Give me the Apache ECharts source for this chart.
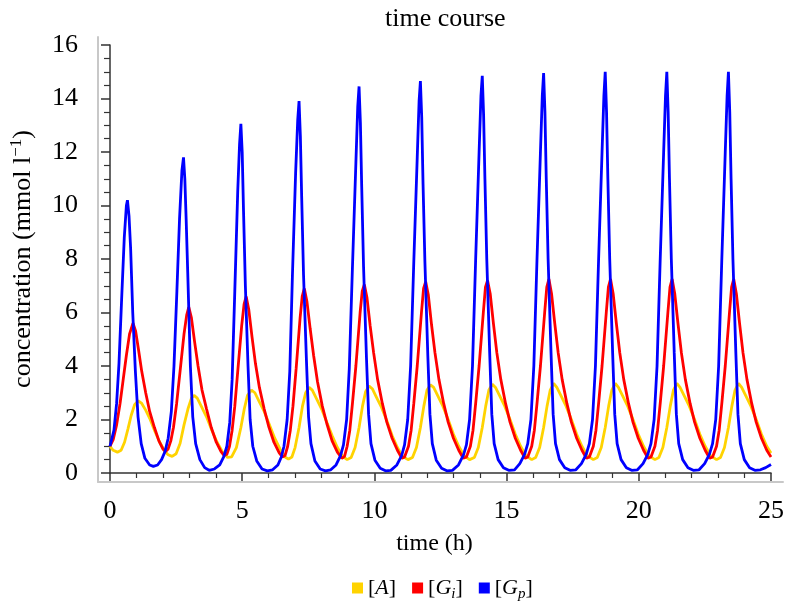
<!DOCTYPE html>
<html><head><meta charset="utf-8">
<script src="https://cdn.jsdelivr.net/npm/echarts@6/dist/echarts.min.js"></script>
<style>html,body{margin:0;padding:0;background:#fff}#c{width:787px;height:605px}</style>
</head><body><div id="c"></div>
<script>
const xTicks = [0, 5, 10, 15, 20, 25];
const yTicks = [0, 2, 4, 6, 8, 10, 12, 14, 16];
const seriesNames = ['[A]', '[Gi]', '[Gp]'];

const dataA = [
[0.0,1.0],[0.12,0.85],[0.28,0.78],[0.42,0.85],[0.55,1.15],[0.68,1.65],[0.8,2.15],[0.93,2.55],[1.07,2.7],[1.2,2.6],[1.35,2.35],[1.52,2.0],[1.7,1.55],[1.88,1.15],[2.05,0.85],[2.2,0.68],[2.35,0.62],
[2.5,0.72],[2.65,1.1],[2.8,1.8],[2.95,2.4],[3.08,2.8],[3.18,2.9],[3.3,2.8],[3.45,2.5],[3.65,2.1],[3.85,1.6],[4.05,1.15],[4.25,0.8],[4.45,0.58],
[4.6,0.6],[4.78,0.95],[4.95,1.7],[5.08,2.4],[5.2,2.9],[5.35,3.1],[5.48,3.0],[5.63,2.7],[5.83,2.3],[6.03,1.8],[6.23,1.3],[6.43,0.9],[6.62,0.6],[6.75,0.52],
[6.88,0.6],[7.0,0.95],[7.15,1.7],[7.28,2.5],[7.4,3.0],[7.53,3.2],[7.65,3.1],[7.8,2.8],[8.0,2.4],[8.2,1.9],[8.4,1.4],[8.6,0.95],[8.8,0.62],[8.97,0.5],
[9.12,0.58],[9.27,0.95],[9.42,1.7],[9.55,2.5],[9.67,3.05],[9.8,3.25],[9.92,3.15],[10.07,2.85],[10.27,2.45],[10.47,1.95],[10.67,1.4],[10.87,0.95],[11.07,0.62],[11.27,0.5],
[11.44,0.58],[11.59,0.95],[11.74,1.7],[11.87,2.5],[11.99,3.1],[12.12,3.3],[12.24,3.2],[12.39,2.9],[12.59,2.5],[12.79,2.0],[12.99,1.45],[13.19,1.0],[13.39,0.65],[13.6,0.5],
[13.78,0.58],[13.93,0.95],[14.08,1.7],[14.21,2.5],[14.33,3.1],[14.46,3.32],[14.58,3.2],[14.73,2.9],[14.93,2.5],[15.13,2.0],[15.33,1.45],[15.53,1.0],[15.73,0.65],[15.95,0.5],
[16.1,0.58],[16.25,0.95],[16.4,1.7],[16.53,2.5],[16.65,3.1],[16.78,3.35],[16.9,3.2],[17.05,2.9],[17.25,2.5],[17.45,2.0],[17.65,1.45],[17.85,1.0],[18.05,0.65],[18.28,0.5],
[18.43,0.58],[18.58,0.95],[18.73,1.7],[18.86,2.5],[18.98,3.1],[19.11,3.35],[19.23,3.2],[19.38,2.9],[19.58,2.5],[19.78,2.0],[19.98,1.45],[20.18,1.0],[20.38,0.65],[20.61,0.5],
[20.76,0.58],[20.91,0.95],[21.06,1.7],[21.19,2.5],[21.31,3.1],[21.44,3.35],[21.56,3.2],[21.71,2.9],[21.91,2.5],[22.11,2.0],[22.31,1.45],[22.51,1.0],[22.71,0.65],[22.94,0.5],
[23.09,0.58],[23.24,0.95],[23.39,1.7],[23.52,2.5],[23.64,3.1],[23.77,3.35],[23.89,3.2],[24.04,2.9],[24.24,2.5],[24.44,2.0],[24.64,1.45],[24.84,1.0],[25.0,0.75]
];

const dataGi = [
[0.0,1.0],[0.12,1.25],[0.25,1.8],[0.38,2.6],[0.5,3.5],[0.62,4.4],[0.74,5.2],[0.87,5.6],[0.97,5.3],[1.08,4.6],[1.2,3.8],[1.35,3.0],[1.5,2.3],[1.68,1.7],[1.85,1.2],[2.0,0.9],[2.1,0.8],
[2.2,0.9],[2.3,1.2],[2.4,1.7],[2.52,2.6],[2.65,3.8],[2.8,5.2],[2.9,5.9],[2.98,6.2],[3.08,5.8],[3.2,4.9],[3.33,4.0],[3.48,3.1],[3.65,2.4],[3.83,1.7],[4.02,1.15],[4.2,0.8],[4.32,0.65],
[4.42,0.7],[4.52,1.0],[4.62,1.6],[4.72,2.5],[4.84,3.9],[4.98,5.5],[5.07,6.3],[5.15,6.6],[5.25,6.1],[5.37,5.1],[5.5,4.1],[5.65,3.2],[5.83,2.4],[6.0,1.75],[6.2,1.15],[6.4,0.75],[6.52,0.6],
[6.62,0.65],[6.72,1.0],[6.82,1.6],[6.92,2.5],[7.04,3.9],[7.19,5.8],[7.27,6.6],[7.35,6.9],[7.45,6.4],[7.57,5.4],[7.7,4.4],[7.85,3.4],[8.03,2.5],[8.2,1.85],[8.4,1.2],[8.6,0.78],[8.77,0.55],
[8.87,0.62],[8.97,1.0],[9.07,1.6],[9.17,2.6],[9.3,4.0],[9.46,6.0],[9.54,6.8],[9.62,7.05],[9.72,6.55],[9.84,5.5],[9.97,4.5],[10.12,3.5],[10.3,2.6],[10.47,1.9],[10.67,1.3],[10.87,0.85],[11.04,0.55],
[11.14,0.6],[11.29,1.0],[11.39,1.6],[11.49,2.6],[11.62,4.0],[11.78,6.0],[11.86,6.9],[11.94,7.15],[12.04,6.65],[12.16,5.55],[12.29,4.5],[12.44,3.5],[12.62,2.6],[12.79,1.9],[12.99,1.3],[13.19,0.85],[13.36,0.55],
[13.48,0.6],[13.63,1.0],[13.73,1.6],[13.83,2.6],[13.96,4.0],[14.12,6.0],[14.2,6.95],[14.28,7.2],[14.38,6.7],[14.5,5.6],[14.63,4.5],[14.78,3.5],[14.96,2.6],[15.13,1.9],[15.33,1.3],[15.53,0.85],[15.7,0.55],
[15.8,0.6],[15.95,1.0],[16.05,1.6],[16.15,2.6],[16.28,4.0],[16.44,6.0],[16.52,6.95],[16.6,7.25],[16.7,6.7],[16.82,5.6],[16.95,4.5],[17.1,3.5],[17.28,2.6],[17.45,1.9],[17.65,1.3],[17.85,0.85],[18.02,0.55],
[18.13,0.6],[18.28,1.0],[18.38,1.6],[18.48,2.6],[18.61,4.0],[18.77,6.0],[18.85,6.95],[18.93,7.25],[19.03,6.7],[19.15,5.6],[19.28,4.5],[19.43,3.5],[19.61,2.6],[19.78,1.9],[19.98,1.3],[20.18,0.85],[20.35,0.55],
[20.46,0.6],[20.61,1.0],[20.71,1.6],[20.81,2.6],[20.94,4.0],[21.1,6.0],[21.18,6.95],[21.26,7.25],[21.36,6.7],[21.48,5.6],[21.61,4.5],[21.76,3.5],[21.94,2.6],[22.11,1.9],[22.31,1.3],[22.51,0.85],[22.68,0.55],
[22.79,0.6],[22.94,1.0],[23.04,1.6],[23.14,2.6],[23.27,4.0],[23.43,6.0],[23.51,6.95],[23.59,7.25],[23.69,6.7],[23.81,5.6],[23.94,4.5],[24.09,3.5],[24.27,2.6],[24.44,1.9],[24.64,1.3],[24.84,0.85],[25.0,0.6]
];

const dataGp = [
[0.0,1.0],[0.15,1.6],[0.25,2.6],[0.34,4.1],[0.44,6.5],[0.54,8.8],[0.62,10.0],[0.66,10.2],[0.72,9.6],[0.78,8.4],[0.86,6.0],[0.96,3.8],[1.06,2.1],[1.18,1.1],[1.32,0.55],[1.5,0.3],[1.64,0.25],[1.8,0.3],[1.95,0.5],[2.08,0.8],
[2.2,1.3],[2.32,2.3],[2.42,4.0],[2.53,6.8],[2.63,9.5],[2.72,11.3],[2.78,11.8],[2.83,11.0],[2.88,9.5],[2.94,7.5],[3.04,4.0],[3.13,2.1],[3.24,1.1],[3.4,0.5],[3.58,0.2],[3.75,0.1],[3.95,0.15],
[4.15,0.3],[4.3,0.6],[4.42,1.0],[4.53,1.9],[4.62,3.5],[4.72,6.8],[4.83,10.5],[4.9,12.3],[4.95,13.05],[5.0,12.0],[5.05,9.8],[5.12,7.0],[5.22,4.0],[5.3,2.0],[5.4,1.0],[5.55,0.45],[5.75,0.15],[5.95,0.08],[6.15,0.12],
[6.35,0.3],[6.48,0.6],[6.58,1.0],[6.7,2.0],[6.8,3.8],[6.9,7.4],[7.02,11.2],[7.1,13.2],[7.15,13.9],[7.2,12.6],[7.25,10.3],[7.32,7.4],[7.43,4.2],[7.51,2.1],[7.6,1.1],[7.75,0.45],[7.95,0.15],[8.15,0.08],[8.35,0.12],
[8.55,0.3],[8.72,0.65],[8.83,1.05],[8.95,2.0],[9.05,3.9],[9.17,7.7],[9.3,11.6],[9.37,13.7],[9.42,14.45],[9.47,13.1],[9.52,10.7],[9.59,7.7],[9.7,4.3],[9.78,2.2],[9.87,1.1],[10.02,0.48],[10.22,0.18],[10.42,0.08],[10.62,0.1],
[10.85,0.3],[11.03,0.65],[11.14,1.05],[11.26,2.0],[11.37,4.0],[11.49,7.9],[11.62,11.8],[11.69,13.9],[11.74,14.65],[11.79,13.3],[11.84,10.8],[11.91,7.9],[12.02,4.4],[12.1,2.2],[12.19,1.1],[12.34,0.48],[12.54,0.18],[12.74,0.08],[12.95,0.1],
[13.18,0.3],[13.37,0.68],[13.48,1.05],[13.6,2.0],[13.71,4.0],[13.83,8.0],[13.96,12.0],[14.03,14.1],[14.08,14.85],[14.13,13.4],[14.18,11.0],[14.25,8.0],[14.36,4.5],[14.44,2.2],[14.53,1.1],[14.68,0.5],[14.88,0.2],[15.08,0.1],[15.3,0.12],
[15.5,0.35],[15.68,0.7],[15.8,1.1],[15.92,2.0],[16.03,4.0],[16.15,8.0],[16.28,12.0],[16.35,14.1],[16.4,14.95],[16.45,13.5],[16.5,11.0],[16.57,8.0],[16.68,4.5],[16.76,2.2],[16.85,1.1],[17.0,0.5],[17.2,0.2],[17.4,0.1],[17.62,0.12],
[17.83,0.35],[18.01,0.7],[18.13,1.1],[18.25,2.0],[18.36,4.0],[18.48,8.0],[18.61,12.0],[18.68,14.1],[18.73,15.0],[18.78,13.5],[18.83,11.0],[18.9,8.0],[19.01,4.5],[19.09,2.2],[19.18,1.1],[19.33,0.5],[19.53,0.2],[19.73,0.1],[19.95,0.12],
[20.16,0.35],[20.34,0.7],[20.46,1.1],[20.58,2.0],[20.69,4.0],[20.81,8.0],[20.94,12.0],[21.01,14.1],[21.06,15.0],[21.11,13.5],[21.16,11.0],[21.23,8.0],[21.34,4.5],[21.42,2.2],[21.51,1.1],[21.66,0.5],[21.86,0.2],[22.06,0.1],[22.28,0.12],
[22.49,0.35],[22.67,0.7],[22.79,1.1],[22.91,2.0],[23.02,4.0],[23.14,8.0],[23.27,12.0],[23.34,14.1],[23.39,15.0],[23.44,13.5],[23.49,11.0],[23.56,8.0],[23.67,4.5],[23.75,2.2],[23.84,1.1],[23.99,0.5],[24.19,0.2],[24.39,0.1],[24.6,0.12],[24.8,0.2],[25.0,0.32]
];

const FONT = '"Liberation Serif", "DejaVu Serif", serif';
const AXC = '#333';
const chart = echarts.init(document.getElementById('c'), null, {renderer: 'canvas'});
const legendFmt = {
  '[A]': '{n|[}{i|A}{n|]}',
  '[Gi]': '{n|[}{i|G}{s|i}{n|]}',
  '[Gp]': '{n|[}{i|G}{s|p}{n|]}'
};
chart.setOption({
  animation: false,
  backgroundColor: '#fff',
  title: {
    text: 'time course', left: 380, top: 1,
    textStyle: {fontFamily: FONT, fontSize: 26, fontWeight: 'normal', color: '#000'}
  },
  legend: {
    data: seriesNames, top: 572, left: 347, icon: 'rect', itemWidth: 11, itemHeight: 11, itemGap: 16,
    formatter: n => legendFmt[n],
    textStyle: {
      fontFamily: FONT, fontSize: 22, color: '#000',
      rich: {
        n: {fontFamily: FONT, fontSize: 22, lineHeight: 28, color: '#000'},
        i: {fontFamily: FONT, fontSize: 22, fontStyle: 'italic', lineHeight: 28, color: '#000'},
        s: {fontFamily: FONT, fontSize: 15, fontStyle: 'italic', lineHeight: 16, verticalAlign: 'bottom', color: '#000'}
      }
    }
  },
  grid: [
    {left: 106, right: 12, top: 45, bottom: 132},
    {left: 98, right: 4, top: 37, bottom: 123}
  ],
  xAxis: [
    {
      type: 'value', gridIndex: 0, min: 0, max: 25, interval: 5, offset: 15,
      name: 'time (h)', nameLocation: 'middle', nameGap: 44,
      nameTextStyle: {fontFamily: FONT, fontSize: 24, color: '#000', padding: [0, 12, 0, 0]},
      axisLine: {lineStyle: {color: AXC, width: 1.5}},
      axisTick: {length: 8, lineStyle: {color: AXC, width: 1.5}},
      minorTick: {show: true, splitNumber: 5, length: 5, lineStyle: {color: AXC, width: 1.2}},
      splitLine: {show: false},
      axisLabel: {fontFamily: FONT, fontSize: 26, color: '#000', margin: 10},
    },
    {
      type: 'value', gridIndex: 1, position: 'top', min: 0, max: 1,
      axisLine: {lineStyle: {color: '#c8c8c8', width: 2}},
      axisTick: {show: false}, axisLabel: {show: false}, splitLine: {show: false}
    }
  ],
  yAxis: [
    {
      type: 'value', gridIndex: 0, min: 0, max: 16, interval: 2, offset: 12,
      name: 'concentration (mmol l{sup|−1})', nameLocation: 'middle', nameGap: 60,
      nameTextStyle: {
        fontFamily: FONT, fontSize: 26, lineHeight: 30, color: '#000',
        rich: {sup: {fontFamily: FONT, fontSize: 17, verticalAlign: 'top', lineHeight: 18, color: '#000'}}
      },
      axisLine: {show: true, lineStyle: {color: AXC, width: 1.5}},
      axisTick: {show: true, length: 9, lineStyle: {color: AXC, width: 1.5}},
      minorTick: {show: true, splitNumber: 4, length: 6, lineStyle: {color: AXC, width: 1.2}},
      splitLine: {show: false},
      axisLabel: {fontFamily: FONT, fontSize: 26, color: '#000', margin: 20},
    },
    {
      type: 'value', gridIndex: 1, position: 'left', min: 0, max: 1,
      axisLine: {show: true, lineStyle: {color: '#c8c8c8', width: 2}},
      axisTick: {show: false}, axisLabel: {show: false}, splitLine: {show: false}
    }
  ],
  series: [
    {name: '[A]', type: 'line', data: dataA, showSymbol: false, symbol: 'none', xAxisIndex: 0, yAxisIndex: 0,
     lineStyle: {color: '#FFD300', width: 2.8}, itemStyle: {color: '#FFD300'}},
    {name: '[Gi]', type: 'line', data: dataGi, showSymbol: false, symbol: 'none', xAxisIndex: 0, yAxisIndex: 0,
     lineStyle: {color: '#FF0000', width: 2.8}, itemStyle: {color: '#FF0000'}},
    {name: '[Gp]', type: 'line', data: dataGp, showSymbol: false, symbol: 'none', xAxisIndex: 0, yAxisIndex: 0,
     lineStyle: {color: '#0000FF', width: 2.8}, itemStyle: {color: '#0000FF'}}
  ]
});
</script></body></html>
